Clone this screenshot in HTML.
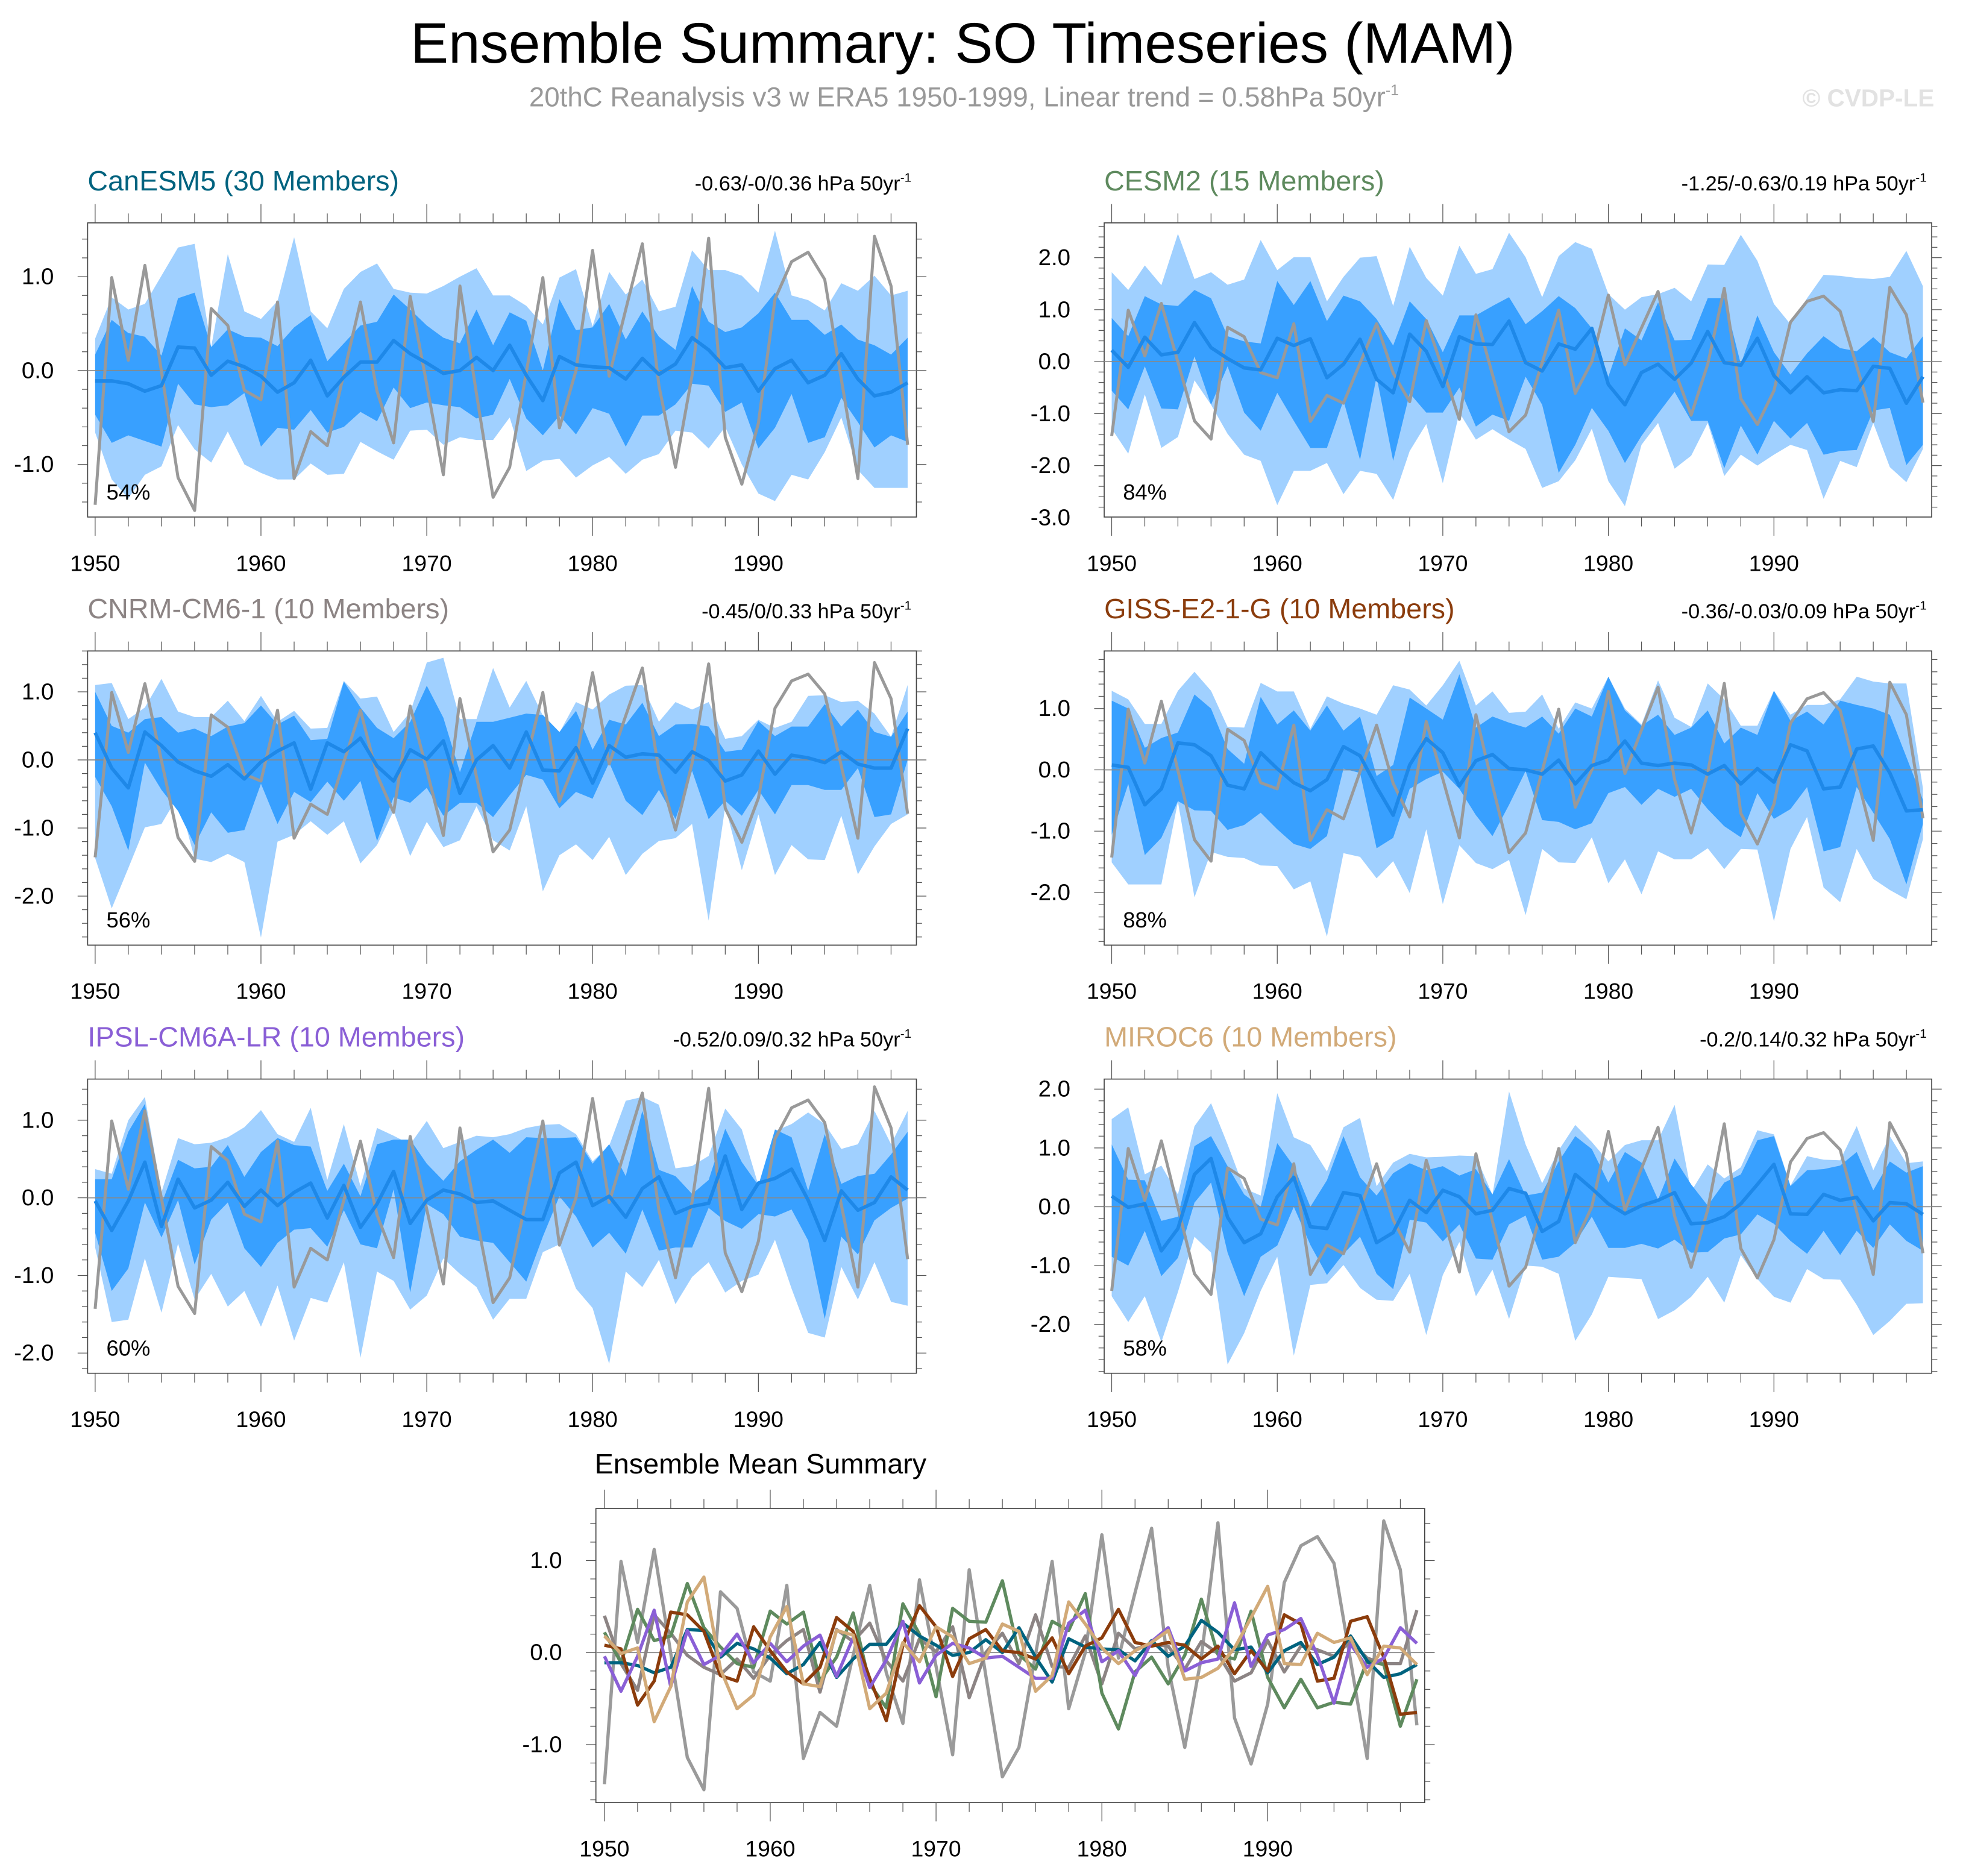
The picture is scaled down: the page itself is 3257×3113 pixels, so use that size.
<!DOCTYPE html>
<html><head><meta charset="utf-8"><title>Ensemble Summary: SO Timeseries (MAM)</title>
<style>
html,body{margin:0;padding:0;background:#fff;}
svg{display:block;font-family:"Liberation Sans",Arial,sans-serif;}
</style></head>
<body>
<svg id="chart" xmlns="http://www.w3.org/2000/svg" width="3257" height="3113" viewBox="0 0 1568 1498.6">
<rect x="0" y="0" width="1568" height="1498.6" fill="#fff"/>
<text x="769" y="50" text-anchor="middle" font-size="45.5" fill="#000">Ensemble Summary: SO Timeseries (MAM)</text>
<text x="770" y="85" text-anchor="middle" font-size="22" fill="#999">20thC Reanalysis v3 w ERA5 1950-1999, Linear trend = 0.58hPa 50yr<tspan dy="-9" font-size="12">-1</tspan></text>
<text x="1545" y="85" text-anchor="end" font-size="19.5" font-weight="bold" fill="#e2e2e2">© CVDP-LE</text>
<g id="panels"></g>
</svg>
<script>
const years = [1950,1951,1952,1953,1954,1955,1956,1957,1958,1959,1960,1961,1962,1963,1964,1965,1966,1967,1968,1969,1970,1971,1972,1973,1974,1975,1976,1977,1978,1979,1980,1981,1982,1983,1984,1985,1986,1987,1988,1989,1990,1991,1992,1993,1994,1995,1996,1997,1998,1999];
const xTickYears = [1950,1960,1970,1980,1990];
const obs = [-1.43,0.99,0.11,1.12,-0.01,-1.14,-1.49,0.66,0.48,-0.21,-0.31,0.73,-1.15,-0.65,-0.80,-0.03,0.73,-0.22,-0.77,0.79,-0.15,-1.11,0.90,-0.25,-1.35,-1.03,-0.02,0.99,-0.61,0.0,1.28,-0.06,0.65,1.35,-0.16,-1.03,-0.05,1.41,-0.71,-1.21,-0.56,0.76,1.16,1.26,0.97,-0.09,-1.15,1.43,0.90,-0.79];

const p1Mean = [-0.11,-0.11,-0.14,-0.22,-0.16,0.25,0.24,-0.05,0.10,0.04,-0.06,-0.23,-0.13,0.11,-0.27,-0.07,0.09,0.09,0.32,0.18,0.08,-0.03,0.0,0.14,0.0,0.27,-0.05,-0.32,0.15,0.06,0.04,0.03,-0.09,0.13,-0.04,0.07,0.35,0.22,0.03,0.06,-0.22,0.02,0.11,-0.13,-0.05,0.18,-0.09,-0.27,-0.23,-0.13];
const p1DarkHi = [0.17,0.54,0.40,0.36,0.16,0.77,0.83,0.25,0.44,0.36,0.35,0.26,0.46,0.59,0.10,0.29,0.48,0.52,0.81,0.65,0.48,0.35,0.29,0.65,0.27,0.62,0.53,0.0,0.76,0.43,0.46,0.71,0.33,0.63,0.36,0.22,0.90,0.52,0.41,0.46,0.61,0.83,0.54,0.54,0.38,0.49,0.33,0.27,0.17,0.35];
const p1DarkLo = [-0.47,-0.77,-0.69,-0.75,-0.81,-0.14,-0.36,-0.39,-0.37,-0.24,-0.81,-0.61,-0.63,-0.42,-0.66,-0.60,-0.44,-0.54,-0.18,-0.40,-0.34,-0.37,-0.39,-0.51,-0.47,-0.09,-0.51,-0.69,-0.48,-0.68,-0.40,-0.46,-0.81,-0.48,-0.48,-0.36,-0.14,-0.16,-0.44,-0.34,-0.83,-0.61,-0.25,-0.77,-0.71,-0.29,-0.55,-0.82,-0.69,-0.76];
const p1LightHi = [0.34,0.78,0.65,0.71,1.01,1.31,1.35,0.25,1.24,0.63,0.55,0.74,1.42,0.63,0.45,0.87,1.05,1.14,0.87,0.83,0.82,0.90,1.0,1.09,0.80,0.80,0.69,0.49,0.99,1.08,0.47,1.05,0.81,0.97,0.63,0.68,1.28,1.07,1.07,1.01,0.83,1.49,0.80,0.75,0.64,0.93,0.85,1.01,0.80,0.85];
const p1LightLo = [-0.66,-1.16,-1.36,-1.11,-1.02,-0.58,-0.84,-0.98,-0.65,-1.0,-1.09,-1.16,-1.16,-0.99,-1.11,-1.10,-0.76,-0.86,-0.95,-0.64,-0.63,-0.79,-0.71,-0.74,-0.74,-0.50,-1.07,-0.96,-0.94,-1.14,-1.01,-0.92,-1.10,-0.95,-0.89,-0.64,-0.66,-0.83,-0.60,-1.0,-1.31,-1.39,-1.11,-1.16,-0.87,-0.50,-1.06,-1.25,-1.25,-1.25];

const p2Mean = [0.22,-0.11,0.47,0.13,0.18,0.75,0.27,0.06,-0.12,-0.16,0.45,0.31,0.44,-0.31,-0.05,0.43,-0.34,-0.60,0.53,0.20,-0.48,0.48,0.34,0.33,0.78,-0.02,-0.18,0.34,0.24,0.64,-0.44,-0.83,-0.21,-0.05,-0.34,-0.03,0.58,-0.02,-0.07,0.45,-0.27,-0.60,-0.29,-0.60,-0.54,-0.56,-0.09,-0.13,-0.80,-0.29];
const p2DarkHi = [0.84,0.49,1.26,1.10,1.07,1.38,1.22,0.49,0.39,0.35,1.55,1.09,1.55,0.78,1.27,1.16,0.82,0.31,1.16,0.82,0.18,0.89,0.89,1.07,1.24,0.72,0.97,1.26,1.03,0.64,-0.29,0.64,0.41,1.14,0.41,0.42,1.22,1.22,-0.05,0.89,0.18,-0.25,0.16,0.49,0.26,0.20,0.47,0.18,0.06,0.49];
const p2DarkLo = [-0.56,-0.92,-0.09,-0.90,-0.92,0.10,-0.83,-0.09,-0.98,-1.33,-0.60,-1.14,-1.66,-1.66,-0.75,-1.89,-0.29,-1.91,-0.61,-0.98,-0.98,-0.50,-1.25,-1.02,-1.14,-0.29,-0.83,-2.14,-1.60,-0.89,-1.33,-1.95,-1.43,-1.00,-0.58,-1.14,-1.14,-2.05,-1.23,-1.79,-1.14,-1.48,-1.18,-1.79,-1.72,-1.70,-0.94,-0.89,-1.99,-1.60];
const p2LightHi = [1.72,1.38,1.85,1.47,2.46,1.59,1.72,1.48,1.58,2.34,1.76,2.01,2.01,1.16,1.63,2.0,2.03,1.07,2.21,1.61,1.27,2.23,1.69,1.78,2.48,2.01,1.24,2.03,2.30,2.17,1.30,1.0,1.24,1.30,1.42,1.16,1.87,1.86,2.44,1.94,1.11,0.72,1.22,1.67,1.65,1.61,1.59,1.63,2.13,1.45];
const p2LightLo = [-1.29,-1.77,-0.63,-1.66,-1.45,-0.36,-0.83,-1.39,-1.79,-1.91,-2.76,-2.10,-2.10,-1.95,-2.55,-2.10,-2.16,-2.66,-1.72,-1.20,-2.34,-0.98,-1.50,-1.30,-1.50,-1.68,-2.43,-2.30,-1.90,-1.29,-2.30,-2.78,-1.60,-1.18,-2.06,-1.81,-1.18,-2.20,-1.79,-2.00,-1.79,-1.60,-1.70,-2.64,-1.91,-2.03,-1.18,-2.03,-2.32,-1.68];

const p3Mean = [0.40,-0.12,-0.41,0.41,0.21,-0.03,-0.16,-0.24,-0.07,-0.28,-0.03,0.13,0.25,-0.43,0.25,0.12,0.32,-0.09,-0.31,0.15,0.01,0.28,-0.49,0.0,0.21,-0.12,0.41,-0.15,-0.16,0.18,-0.34,0.21,0.04,0.09,0.07,-0.18,0.12,-0.01,-0.31,-0.22,0.13,-0.21,0.07,0.03,-0.04,0.12,-0.06,-0.12,-0.12,0.46];
const p3DarkHi = [1.0,0.5,0.40,0.60,0.63,0.40,0.46,0.35,0.49,0.54,0.80,0.52,0.65,0.29,0.31,1.15,0.77,0.47,0.32,0.56,1.09,0.62,-0.18,0.56,0.56,0.62,0.68,0.66,0.41,0.72,0.15,0.59,0.52,0.84,0.35,0.52,0.53,0.49,0.12,0.15,0.57,0.35,0.49,0.49,0.82,0.49,0.74,0.41,0.34,0.71];
const p3DarkLo = [-0.25,-0.68,-1.33,-0.04,-0.44,-0.75,-1.25,-0.77,-1.07,-1.03,-0.35,-0.94,-0.47,-0.62,-0.32,-0.60,-0.31,-1.19,-0.55,-0.63,-0.41,-0.82,-0.63,-0.63,-0.84,-0.52,-0.22,-0.29,-0.71,-0.47,-0.57,-0.04,-0.60,-0.81,-0.44,-0.87,-0.16,-0.87,-0.60,-0.82,-0.44,-0.80,-0.37,-0.37,-0.44,-0.44,-0.12,-0.84,-0.80,0.0];
const p3LightHi = [1.10,1.13,0.60,0.77,1.19,0.71,0.63,0.63,0.87,0.57,0.94,0.56,0.72,0.46,0.47,1.16,0.90,0.93,0.41,0.70,1.43,1.50,0.60,0.60,1.35,0.77,1.16,0.65,0.40,0.85,0.74,0.96,1.09,1.10,0.56,0.85,0.74,0.85,0.31,0.35,0.59,0.47,0.56,0.94,0.95,0.85,0.87,0.68,0.34,1.10];
const p3LightLo = [-1.44,-2.18,-1.59,-0.99,-0.94,-0.53,-1.45,-1.50,-1.38,-1.50,-2.61,-1.20,-1.10,-0.90,-1.10,-0.90,-1.52,-1.25,-0.75,-1.41,-0.91,-1.28,-1.18,-0.68,-1.18,-1.33,-0.68,-1.93,-1.40,-1.24,-1.47,-1.13,-1.69,-1.38,-1.19,-1.15,-0.94,-2.36,-0.68,-1.62,-0.80,-1.69,-1.25,-1.46,-1.47,-0.82,-1.68,-1.27,-0.94,-0.80];

const p4Mean = [0.08,0.04,-0.57,-0.31,0.44,0.41,0.23,-0.25,-0.31,0.28,0.02,-0.21,-0.34,-0.16,0.38,0.23,-0.28,-0.74,0.08,0.51,0.28,-0.26,0.15,0.25,0.02,0.0,-0.07,0.16,-0.23,0.07,0.16,0.47,0.11,0.07,0.11,0.08,-0.07,0.07,-0.23,0.02,-0.20,0.41,0.31,-0.31,-0.28,0.34,0.39,-0.05,-0.67,-0.65];
const p4DarkHi = [1.13,1.0,0.36,0.52,0.61,1.23,1.0,0.34,0.10,1.19,0.74,0.97,0.64,1.05,0.64,0.87,-0.10,0.08,1.18,1.0,0.82,1.56,0.69,0.87,0.77,0.69,0.87,0.59,1.0,0.87,1.52,0.97,0.72,0.90,0.57,0.69,0.97,0.43,0.69,0.57,1.29,0.80,0.95,0.74,1.13,1.06,1.0,0.90,0.21,-0.49];
const p4DarkLo = [-1.06,-0.23,-1.39,-1.11,-0.51,-0.66,-0.67,-0.98,-0.90,-0.70,-0.97,-1.21,-1.29,-1.08,0.02,-0.05,-1.28,-1.11,-0.31,-0.15,-0.03,-0.31,-0.74,-1.08,-0.57,-0.02,-0.82,-0.85,-0.97,-0.87,-0.38,-0.28,-0.57,-0.31,-0.44,-0.31,-0.64,-0.92,-1.10,-0.38,-0.80,-0.64,-0.28,-1.33,-1.26,-0.28,-0.70,-1.13,-1.87,-0.88];
const p4LightHi = [1.29,1.15,0.75,0.75,1.29,1.60,1.29,0.70,0.69,1.42,1.28,1.28,0.67,1.20,1.08,1.00,0.90,1.38,1.31,1.05,1.38,1.78,1.05,1.28,0.93,0.95,1.23,0.67,1.10,1.0,1.52,1.0,0.74,1.46,0.85,0.70,1.41,1.15,0.72,0.72,1.29,0.90,1.06,1.06,1.15,1.52,1.44,1.41,1.41,-0.30];
const p4LightLo = [-1.51,-1.87,-1.87,-1.87,-0.52,-2.08,-1.34,-1.42,-1.44,-1.56,-1.57,-1.95,-1.82,-2.72,-1.36,-1.42,-1.77,-1.49,-2.01,-0.97,-2.19,-1.23,-1.52,-1.62,-1.47,-2.37,-1.29,-1.51,-1.52,-1.10,-1.85,-1.46,-2.03,-1.33,-1.46,-1.46,-1.28,-1.62,-1.29,-1.30,-2.47,-1.29,-0.77,-1.92,-2.16,-1.29,-1.78,-1.96,-2.11,-1.13];

const p5Mean = [-0.04,-0.42,-0.04,0.46,-0.37,0.24,-0.13,-0.03,0.20,-0.11,0.10,-0.10,0.07,0.19,-0.26,0.16,-0.38,-0.08,0.34,-0.33,-0.03,0.10,0.05,-0.06,-0.04,-0.16,-0.28,-0.28,0.32,0.46,-0.10,0.02,-0.25,0.12,0.27,-0.20,-0.11,-0.07,0.54,-0.15,0.19,0.25,0.37,-0.03,-0.55,0.09,-0.16,-0.06,0.27,0.10];
const p5DarkHi = [0.24,0.24,0.85,1.21,-0.08,0.49,0.38,0.40,0.68,0.27,0.59,0.77,0.68,0.66,0.09,0.44,0.02,0.69,0.75,0.75,0.44,0.22,0.47,0.62,0.75,0.58,0.78,0.77,0.77,0.78,0.44,0.69,0.28,1.12,0.36,0.28,0.05,0.23,0.89,0.46,0.16,0.88,0.78,0.09,0.82,0.18,0.28,0.31,0.56,0.85];
const p5DarkLo = [-0.45,-1.20,-0.91,-0.06,-0.51,-0.03,-0.86,-0.28,-0.06,-0.65,-0.89,-0.58,-0.41,-0.39,-0.63,-0.16,-0.60,-0.65,0.11,-1.22,-0.08,-0.21,-0.50,-0.55,-0.58,-0.83,-1.08,-0.50,0.02,-0.24,-0.64,-0.45,-0.72,-0.15,-0.68,-0.64,-0.64,-0.13,-0.30,-0.40,-0.21,-0.24,-0.15,-0.55,-1.56,-0.50,-0.73,-0.29,-0.13,-0.01];
const p5LightHi = [0.37,0.31,1.00,1.30,0.07,0.77,0.69,0.71,0.78,0.91,1.13,0.82,0.72,1.16,0.23,0.95,0.15,0.90,0.80,0.69,0.99,0.64,0.72,0.80,0.78,0.82,0.90,0.94,0.95,0.82,0.47,0.67,1.25,1.30,1.20,0.38,0.41,0.54,1.15,0.88,0.16,0.86,0.95,1.10,0.95,0.63,0.69,1.12,0.69,1.12];
const p5LightLo = [-0.64,-1.60,-1.57,-0.78,-1.48,-0.59,-1.31,-0.98,-1.40,-1.20,-1.66,-1.13,-1.84,-1.29,-1.35,-0.83,-2.06,-0.95,-1.07,-1.44,-1.26,-0.78,-0.98,-1.15,-1.57,-1.30,-1.30,-0.70,-0.60,-1.17,-1.42,-2.14,-0.95,-1.15,-0.80,-1.37,-1.02,-0.83,-1.22,-1.07,-0.99,-0.54,-1.17,-1.74,-1.80,-0.89,-1.31,-0.83,-1.34,-1.39];

const p6Mean = [0.18,-0.01,0.05,-0.75,-0.37,0.55,0.82,-0.18,-0.61,-0.46,0.17,0.50,-0.34,-0.37,0.24,0.19,-0.61,-0.44,0.11,-0.10,0.28,0.17,-0.12,-0.06,0.31,0.23,-0.42,-0.25,0.55,0.31,0.05,-0.12,0.02,0.11,0.24,-0.29,-0.27,-0.17,0.05,0.38,0.72,-0.12,-0.13,0.21,0.11,0.16,-0.24,0.07,0.05,-0.13];
const p6DarkHi = [1.06,0.46,0.45,-0.24,-0.17,1.03,1.20,0.69,0.21,0.0,1.08,0.69,0.0,0.45,1.20,0.50,0.19,0.57,0.74,0.62,0.69,0.53,0.64,0.21,0.81,0.19,0.24,0.77,1.20,0.98,0.41,0.93,0.75,0.12,0.82,0.38,0.02,0.41,0.55,1.13,1.20,0.35,0.62,0.64,0.70,0.93,0.28,0.77,0.58,0.69];
const p6DarkLo = [-0.85,-1.00,-0.41,-1.18,-0.87,0.07,0.41,-0.78,-1.52,-0.85,-0.66,0.0,-0.65,-1.16,-0.80,-0.51,-1.14,-1.40,-0.22,-0.27,-0.59,-0.30,-0.88,-0.90,-0.30,-0.15,-0.90,-0.85,-0.61,-0.17,-0.70,-0.70,-0.63,-0.71,-0.56,-0.78,-0.77,-0.54,-0.47,-0.13,-0.29,-0.58,-0.80,-0.41,-0.82,-0.41,-0.70,-0.30,-0.58,-0.75];
const p6LightHi = [1.49,1.69,0.55,0.70,0.21,1.37,1.76,1.06,0.31,0.19,1.93,1.18,1.05,0.60,1.35,1.51,0.35,0.75,0.90,0.84,0.85,0.87,0.86,0.20,1.96,1.06,0.40,0.96,1.39,1.10,0.77,1.05,1.13,1.13,1.73,0.26,0.72,0.48,0.67,1.30,1.23,0.36,0.86,0.80,0.79,1.37,0.62,1.20,0.74,0.77];
const p6LightLo = [-1.52,-1.96,-1.52,-2.30,-1.45,-0.51,-0.78,-2.68,-2.15,-1.43,-0.85,-2.53,-1.33,-1.30,-0.99,-1.38,-1.58,-1.60,-1.14,-2.18,-1.16,-0.60,-1.52,-1.07,-1.91,-1.00,-1.02,-1.14,-2.28,-1.83,-1.19,-1.21,-1.23,-1.91,-1.76,-1.53,-1.19,-1.63,-0.82,-1.23,-1.53,-1.63,-1.06,-1.23,-1.24,-1.67,-2.18,-1.94,-1.65,-1.64];

const modelNames = ["CanESM5 (30 Members)","CESM2 (15 Members)","CNRM-CM6-1 (10 Members)","GISS-E2-1-G (10 Members)","IPSL-CM6A-LR (10 Members)","MIROC6 (10 Members)"];
const trendLabels = ["-0.63/-0/0.36 hPa 50yr","-1.25/-0.63/0.19 hPa 50yr","-0.45/0/0.33 hPa 50yr","-0.36/-0.03/0.09 hPa 50yr","-0.52/0.09/0.32 hPa 50yr","-0.2/0.14/0.32 hPa 50yr"];
const pctLabels = ["54%","84%","56%","88%","60%","58%"];
const yLabelSets = [[1,0,-1],[2,1,0,-1,-2,-3],[1,0,-1,-2],[1,0,-1,-2],[1,0,-1,-2],[2,1,0,-1,-2]];

const NS = "http://www.w3.org/2000/svg";
const root = document.getElementById("panels");
function mk(tag, attrs, parent){
  const e = document.createElementNS(NS, tag);
  for (const k in attrs) e.setAttribute(k, attrs[k]);
  (parent||root).appendChild(e);
  return e;
}
function slug(s){ return s.toLowerCase().replace(/[^a-z0-9]+/g,'-').replace(/^-|-$/g,''); }

function drawAxes(g, L, xs, ys, yLabels, nm){
  const box = mk("rect",{x:L.x0,y:L.y0,width:L.x1-L.x0,height:L.y1-L.y0,fill:"none",stroke:"#444","stroke-width":0.8},g);
  
  
  for (let yr = years[0]; yr <= years[years.length-1]; yr += 2){
    const major = xTickYears.includes(yr);
    const len = major ? 15 : 7.5;
    const x = xs(yr);
    const t1 = mk("line",{x1:x,x2:x,y1:L.y1,y2:L.y1+len,stroke:"#555","stroke-width":0.6},g);
    
    
    const t2 = mk("line",{x1:x,x2:x,y1:L.y0,y2:L.y0-len,stroke:"#555","stroke-width":0.6},g);
    
    
  }
  for (const yr of xTickYears){
    const t = mk("text",{x:xs(yr),y:L.y1+43,"text-anchor":"middle","font-size":18,fill:"#000"},g);
    t.textContent = yr;
    
    
  }
  const start = Math.ceil(L.yMin*5-1e-6), end = Math.floor(L.yMax*5+1e-6);
  for (let k = start; k <= end; k++){
    const v = k/5, y = ys(v);
    const major = (k % 5 === 0);
    const len = major ? 8 : 4.5;
    const a = mk("line",{x1:L.x0,x2:L.x0-len,y1:y,y2:y,stroke:"#555","stroke-width":0.6},g);
    
    
    const b = mk("line",{x1:L.x1,x2:L.x1+len,y1:y,y2:y,stroke:"#555","stroke-width":0.6},g);
    
    
  }
  for (const v of yLabels){
    const t = mk("text",{x:L.x0-27,y:ys(v)+6,"text-anchor":"end","font-size":18.5,fill:"#000"},g);
    t.textContent = v.toFixed(1);
    
    
  }
  const z = mk("line",{x1:L.x0,x2:L.x1,y1:ys(0),y2:ys(0),stroke:"#888","stroke-width":0.8},g);
  
  
}

function linePts(vals, xs, ys){ return vals.map((v,i)=> xs(years[i]).toFixed(2)+","+ys(v).toFixed(2)).join(" "); }
function bandPts(hi, lo, xs, ys){
  const a = hi.map((v,i)=> xs(years[i]).toFixed(2)+","+ys(v).toFixed(2));
  const b = lo.map((v,i)=> xs(years[i]).toFixed(2)+","+ys(v).toFixed(2)).reverse();
  return a.concat(b).join(" ");
}

const panelDefs = [
  {x0:70,x1:732,y0:178,y1:413,yMin:-1.56,yMax:1.573,color:"#00637f",mean:p1Mean,dh:p1DarkHi,dl:p1DarkLo,lh:p1LightHi,ll:p1LightLo},
  {x0:882,x1:1543,y0:178,y1:413,yMin:-2.99,yMax:2.67,color:"#5e8a5e",mean:p2Mean,dh:p2DarkHi,dl:p2DarkLo,lh:p2LightHi,ll:p2LightLo},
  {x0:70,x1:732,y0:520,y1:755,yMin:-2.72,yMax:1.60,color:"#8c8484",mean:p3Mean,dh:p3DarkHi,dl:p3DarkLo,lh:p3LightHi,ll:p3LightLo},
  {x0:882,x1:1543,y0:520,y1:755,yMin:-2.86,yMax:1.94,color:"#8b3c0c",mean:p4Mean,dh:p4DarkHi,dl:p4DarkLo,lh:p4LightHi,ll:p4LightLo},
  {x0:70,x1:732,y0:862,y1:1097,yMin:-2.26,yMax:1.53,color:"#8a5fd6",mean:p5Mean,dh:p5DarkHi,dl:p5DarkLo,lh:p5LightHi,ll:p5LightLo},
  {x0:882,x1:1543,y0:862,y1:1097,yMin:-2.83,yMax:2.17,color:"#d2aa78",mean:p6Mean,dh:p6DarkHi,dl:p6DarkLo,lh:p6LightHi,ll:p6LightLo}
];

panelDefs.forEach((L, idx) => {
  const nm = slug(modelNames[idx].split(" ")[0]);
  const g = mk("g",{});
  
  
  const xL = L.x0 + 6, xR = L.x1 - 7;
  const xs = yr => xL + (yr - years[0]) * (xR - xL) / (years[years.length-1] - years[0]);
  const ys = v => L.y1 - (v - L.yMin) * (L.y1 - L.y0) / (L.yMax - L.yMin);
  const lb = mk("polygon",{points:bandPts(L.lh, L.ll, xs, ys),fill:"#a0d0ff",stroke:"none"},g);
  
  
  const db = mk("polygon",{points:bandPts(L.dh, L.dl, xs, ys),fill:"#38a0ff",stroke:"none"},g);
  
  
  drawAxes(g, L, xs, ys, yLabelSets[idx], nm);
  const ob = mk("polyline",{points:linePts(obs, xs, ys),fill:"none",stroke:"#999","stroke-width":2.4,"stroke-linejoin":"round"},g);
  
  
  const ml = mk("polyline",{points:linePts(L.mean, xs, ys),fill:"none",stroke:"#1e88e8","stroke-width":2.8,"stroke-linejoin":"round"},g);
  
  
  const title = mk("text",{x:L.x0,y:L.y0-26,"font-size":22.5,fill:L.color},g);
  title.textContent = modelNames[idx];
  
  
  const tr = mk("text",{x:L.x1-4,y:L.y0-26,"text-anchor":"end","font-size":16.5,fill:"#000"},g);
  tr.textContent = trendLabels[idx];
  const sup = mk("tspan",{dy:-7,"font-size":10},tr);
  sup.textContent = "-1";
  
  
  const pc = mk("text",{x:L.x0+15,y:L.y1-14,"font-size":17.5,fill:"#000"},g);
  pc.textContent = pctLabels[idx];
  
  
});

const summaryMeans = [p3Mean, p2Mean, p1Mean, p4Mean, p5Mean, p6Mean];
const summaryColors = ["#8c8484","#5e8a5e","#00637f","#8b3c0c","#8a5fd6","#d2aa78"];
const summaryNames = ["cnrm","cesm2","canesm5","giss","ipsl","miroc6"];
(function(){
  const L = {x0:476,x1:1138,y0:1205,y1:1440,yMin:-1.63,yMax:1.566};
  const g = mk("g",{});
  
  
  const xL = L.x0 + 6.8, xR = L.x1 - 6.2;
  const xs = yr => xL + (yr - years[0]) * (xR - xL) / (years[years.length-1] - years[0]);
  const ys = v => L.y1 - (v - L.yMin) * (L.y1 - L.y0) / (L.yMax - L.yMin);
  drawAxes(g, L, xs, ys, [1,0,-1], 'summary');
  const ob = mk("polyline",{points:linePts(obs, xs, ys),fill:"none",stroke:"#9a9a9a","stroke-width":2.6,"stroke-linejoin":"round"},g);
  
  
  summaryMeans.forEach((arr, k) => {
    const pl = mk("polyline",{points:linePts(arr, xs, ys),fill:"none",stroke:summaryColors[k],"stroke-width":2.6,"stroke-linejoin":"round"},g);
    
    
  });
  const t = mk("text",{x:475,y:1177,"font-size":22.5,fill:"#000"},g);
  t.textContent = "Ensemble Mean Summary";
  
  
})();
</script>
</body></html>
